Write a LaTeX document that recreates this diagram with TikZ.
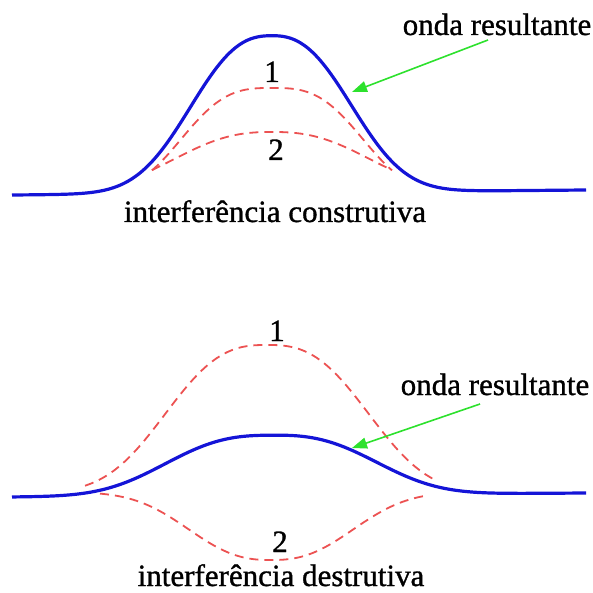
\documentclass[tikz,border=0pt]{standalone}
\usepackage{fontspec}
\setmainfont[FakeBold=1]{Liberation Serif}
\usetikzlibrary{arrows.meta}
\definecolor{wave}{RGB}{20,20,215}
\definecolor{comp}{RGB}{236,82,82}
\definecolor{pointer}{RGB}{45,225,45}
\tikzset{
  resultwave/.style={draw=wave, line width=3.2pt, line join=round},
  partwave/.style={draw=comp, line width=1.8pt, dash pattern=on 9pt off 6pt},
  pointerarrow/.style={draw=pointer, line width=1.6pt, -{Triangle[length=15pt,width=11pt]}},
  lbl/.style={inner sep=0pt, anchor=base, font=\fontsize{31}{36}\selectfont}
}
\begin{document}
\begin{tikzpicture}[x=1pt,y=-1pt,
  declare function={
    bump(\x,\c,\s,\p)=exp(-pow((abs(\x-\c)+0.001)/\s,\p));
  }]
\useasboundingbox (0,0) rectangle (592,593);

% ---------- constructive ----------
\path[resultwave] plot[domain=12:586, samples=160, smooth]
  (\x, {195 - 5*(\x-12)/574 - 157*bump(\x,271,99,2.5)});
\path[partwave] plot[domain=152:392, samples=80, smooth]
  (\x, {193 - 105*bump(\x,272,104,3)});
\path[partwave] plot[domain=152:390, samples=80, smooth]
  (\x, {193 - 61*bump(\x,272,121,2.5)});

\node[lbl] (n1a) at (272,82) {1};
\node[lbl] (n2a) at (276,160) {2};
\node[lbl] (resa) at (497,35) {onda resultante};
\node[lbl] (consa) at (275,222) {interferência construtiva};
\coordinate (taila) at (488,40);
\coordinate (tipa) at (352,92);
\draw[pointerarrow] (taila) -- (tipa);

% ---------- destructive ----------
\path[resultwave] plot[domain=12:586, samples=160, smooth]
  (\x, {497 - 4*(\x-12)/574 - 60*bump(\x,271,126,2.7)});
\path[partwave] plot[domain=85:437, samples=100, smooth]
  (\x, {493 - 148*bump(\x,267,121,2.7)});
\path[partwave] plot[domain=100:428, samples=100, smooth]
  (\x, {492 + 68*bump(\x,271,101,2.5)});

\node[lbl] (n1b) at (277,341) {1};
\node[lbl] (n2b) at (280,552) {2};
\node[lbl] (resb) at (495,395) {onda resultante};
\node[lbl] (desb) at (281,586) {interferência destrutiva};
\coordinate (tailb) at (480,404);
\coordinate (tipb) at (352,448);
\draw[pointerarrow] (tailb) -- (tipb);
\end{tikzpicture}
\end{document}
